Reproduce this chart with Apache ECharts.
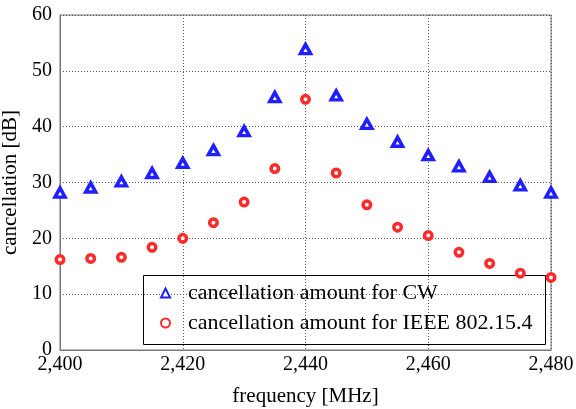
<!DOCTYPE html>
<html><head><meta charset="utf-8">
<script src="https://cdn.jsdelivr.net/npm/echarts@6/dist/echarts.min.js"></script>
<style>html,body{margin:0;padding:0;background:#fff}#c{width:576px;height:409px}</style>
</head><body><div id="c"></div>
<script>
const frequency = [2400,2405,2410,2415,2420,2425,2430,2435,2440,2445,2450,2455,2460,2465,2470,2475,2480];
const cwValues = [28.2,29.1,30.2,31.7,33.5,35.8,39.2,45.3,53.9,45.6,40.5,37.3,34.9,32.9,31.0,29.5,28.2];
const ieeeValues = [16.2,16.4,16.6,18.4,20.0,22.8,26.5,32.5,44.9,31.7,26.0,22.0,20.5,17.5,15.5,13.75,13.0];
const seriesNames = ['cancellation amount for CW','cancellation amount for IEEE 802.15.4'];
const xTicks = [2400,2420,2440,2460,2480];
const yTicks = [0,10,20,30,40,50,60];

const FONT = '"Liberation Serif","DejaVu Serif",serif';
const chart = echarts.init(document.getElementById('c'));
chart.setOption({
  animation:false,
  backgroundColor:'#fff',
  grid:{show:true, borderColor:'#777', borderWidth:1, left:60, right:25, top:15, bottom:59,
    containLabel:false, outerBoundsMode:'none'},
  xAxis:{type:'value', min:xTicks[0], max:xTicks[xTicks.length-1], interval:20,
    name:'frequency [MHz]', nameLocation:'middle', nameGap:36,
    nameTextStyle:{fontFamily:FONT, fontSize:21, color:'#000'},
    axisLine:{show:true, lineStyle:{color:'#777'}}, axisTick:{show:false},
    axisLabel:{fontFamily:FONT, fontSize:20, color:'#000', margin:5,
      formatter:v=>v.toLocaleString('en-US')},
    splitLine:{show:true, lineStyle:{color:'#555', type:[1,2], width:1}}},
  yAxis:{type:'value', min:yTicks[0], max:yTicks[yTicks.length-1], interval:10,
    name:'cancellation [dB]', nameLocation:'middle', nameGap:36,
    nameTextStyle:{fontFamily:FONT, fontSize:21, color:'#000'},
    axisLine:{show:true, lineStyle:{color:'#777'}}, axisTick:{show:false},
    axisLabel:{fontFamily:FONT, fontSize:20, color:'#000', margin:8},
    splitLine:{show:true, lineStyle:{color:'#555', type:[1,2], width:1}}},
  legend:{orient:'vertical', left:155, top:277, itemWidth:9, itemHeight:9, itemGap:8,
    textStyle:{fontFamily:FONT, fontSize:22, color:'#000', padding:[0,0,0,13]},
    data:seriesNames},
  graphic:[{type:'rect', left:141, top:273, shape:{width:402, height:69},
    style:{fill:null, stroke:'#000', lineWidth:1}, z:-1}],
  series:[
    {name:seriesNames[0], type:'scatter', symbol:'triangle', symbolSize:[10,9],
      itemStyle:{color:'#fff', borderColor:'#1f1fff', borderWidth:3.5, opacity:1},
      data:frequency.map((f,i)=>[f,cwValues[i]])},
    {name:seriesNames[1], type:'scatter', symbol:'circle', symbolSize:7.5,
      itemStyle:{color:'#fff', borderColor:'#ff2a2a', borderWidth:3.5, opacity:1},
      data:frequency.map((f,i)=>[f,ieeeValues[i]])}
  ]
});
</script></body></html>
